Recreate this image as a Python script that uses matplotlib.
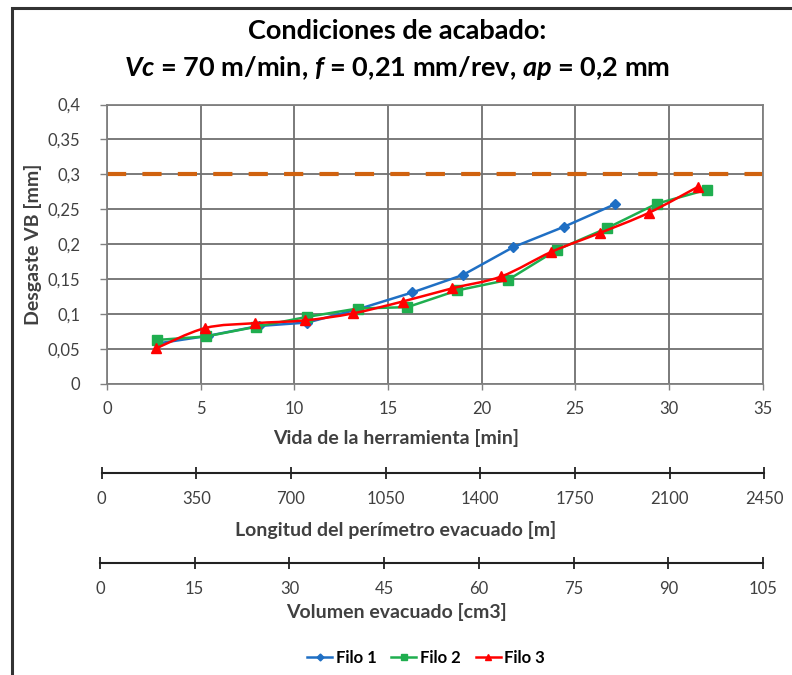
import numpy as np
import matplotlib
matplotlib.use("Agg")
import matplotlib.pyplot as plt
from matplotlib.path import Path
from matplotlib.patches import PathPatch, Rectangle
from matplotlib.lines import Line2D

plt.rcParams['font.family'] = ['Lato', 'DejaVu Sans']
plt.rcParams['mathtext.fontset'] = 'custom'
plt.rcParams['mathtext.it'] = 'Lato:italic:bold'
plt.rcParams['mathtext.rm'] = 'Lato:bold'

# data
time_1 = [2.7, 5.4, 8.1, 10.7, 13.4, 16.3, 19.0, 21.7, 24.4, 27.1]
wear_1 = [0.058, 0.069, 0.083, 0.088, 0.107, 0.131, 0.156, 0.196, 0.225, 0.257]
time_2 = [2.66, 5.28, 7.98, 10.67, 13.38, 16.04, 18.71, 21.41, 24.02, 26.69, 29.35, 32.02]
wear_2 = [0.063, 0.068, 0.082, 0.096, 0.108, 0.110, 0.134, 0.149, 0.192, 0.223, 0.258, 0.278]
time_3 = [2.62, 5.23, 7.89, 10.55, 13.12, 15.78, 18.44, 21.06, 23.72, 26.3, 28.93, 31.54]
wear_3 = [0.051, 0.080, 0.087, 0.091, 0.101, 0.118, 0.137, 0.154, 0.189, 0.216, 0.245, 0.282]
vb_limit = 0.3

time_ticks = list(range(0, 36, 5))
wear_ticks = [0, 0.05, 0.1, 0.15, 0.2, 0.25, 0.3, 0.35, 0.4]
wear_labels = ['0', '0,05', '0,1', '0,15', '0,2', '0,25', '0,3', '0,35', '0,4']
length_ticks = list(range(0, 2451, 350))
volume_ticks = list(range(0, 106, 15))

blue, green, red = '#1f6fc4', '#1fae4f', '#ff0000'
orange = '#d0620f'
txt = '#404040'

W, H = 792, 675
def fx(p):
    return p / W
def fy(p):
    return 1 - p / H

fig = plt.figure(figsize=(W / 100, H / 100), dpi=100)

# outer frame
fig.patches.append(Rectangle((fx(12), fy(1000)), 2, fy(8) - fy(1000),
                             transform=fig.transFigure, fill=False,
                             edgecolor='#333333', linewidth=2.2))

ax = fig.add_axes([fx(107), fy(384), fx(762.5) - fx(107), fy(104.5) - fy(384)])


def smooth_path(x, y):
    pts = np.column_stack([x, y])
    n = len(pts)
    verts = [pts[0]]
    codes = [Path.MOVETO]
    for i in range(n - 1):
        p0 = pts[max(i - 1, 0)]
        p1 = pts[i]
        p2 = pts[i + 1]
        p3 = pts[min(i + 2, n - 1)]
        verts += [p1 + (p2 - p0) / 6, p2 - (p3 - p1) / 6, p2]
        codes += [Path.CURVE4] * 3
    return Path(verts, codes)


ax.plot(time_1, wear_1, color=blue, lw=1.8, marker='D', ms=5, zorder=3)
ax.plot(time_2, wear_2, color=green, lw=1.8, marker='s', ms=6.5, zorder=4)
ax.add_patch(PathPatch(smooth_path(time_3, wear_3), fill=False,
                       edgecolor=red, lw=1.8, zorder=5))
ax.plot(time_3, wear_3, color=red, ls='none', marker='^', ms=7, zorder=5)
ax.axhline(vb_limit, color=orange, lw=3, dashes=(4.6, 3.9), zorder=2)

ax.set_xlim(0, 35)
ax.set_ylim(0, 0.4)
ax.set_xticks(time_ticks)
ax.set_yticks(wear_ticks)
ax.set_yticklabels(wear_labels)
ax.grid(True, color='#707070', lw=1.3)
ax.set_axisbelow(True)
for s in ax.spines.values():
    s.set_color('#808080')
    s.set_linewidth(1.3)
ax.tick_params(axis='y', direction='out', length=5, width=1, color='#808080',
               pad=14, labelsize=12, labelcolor=txt)
ax.tick_params(axis='x', direction='out', length=4, width=1, color='#808080',
               pad=8, labelsize=12, labelcolor=txt)

ax.set_xlabel('Vida de la herramienta [min]', fontsize=14, fontweight='bold',
              color=txt, va='center')
ax.xaxis.set_label_coords(0.5, fy(438), transform=fig.transFigure)
ax.set_ylabel('Desgaste VB [mm]', fontsize=14, fontweight='bold',
              color=txt, va='center')
ax.yaxis.set_label_coords(fx(33), fy(244), transform=fig.transFigure)

# extra scales below the chart
def scale_axis(y_line, x0, x1, ticks, label, y_label):
    a = fig.add_axes([fx(x0), fy(y_line), fx(x1) - fx(x0), 0.0001])
    a.patch.set_visible(False)
    for k in ('top', 'left', 'right'):
        a.spines[k].set_visible(False)
    a.spines['bottom'].set_linewidth(1.5)
    a.spines['bottom'].set_color('#222222')
    a.set_xlim(ticks[0], ticks[-1])
    a.set_xticks(ticks)
    a.set_yticks([])
    a.tick_params(axis='x', direction='inout', length=9, width=1.3,
                  color='#222222', pad=9, labelsize=12, labelcolor=txt)
    a.set_xlabel(label, fontsize=14, fontweight='bold', color=txt, va='center')
    a.xaxis.set_label_coords(0.5, fy(y_label), transform=fig.transFigure)
    return a

scale_axis(472.7, 101.7, 764.3, length_ticks,
           'Longitud del perímetro evacuado [m]', 530)
scale_axis(562.7, 100, 763, volume_ticks, 'Volumen evacuado [cm3]', 612)

# title
fig.text(fx(397), fy(31), 'Condiciones de acabado:', ha='center', va='center',
         fontsize=19.5, fontweight='bold', color='black')
fig.text(fx(397), fy(68),
         r'$Vc$ = 70 m/min, $f$ = 0,21 mm/rev, $ap$ = 0,2 mm',
         ha='center', va='center', fontsize=19.5, fontweight='bold', color='black')

handles = [
    Line2D([], [], color=blue, lw=1.8, marker='D', ms=3.5),
    Line2D([], [], color=green, lw=1.8, marker='s', ms=4.5),
    Line2D([], [], color=red, lw=1.8, marker='^', ms=4.5),
]
fig.legend(handles, ['Filo 1', 'Filo 2', 'Filo 3'], loc='center',
           bbox_to_anchor=(fx(426), fy(658)), ncol=3, frameon=False,
           handlelength=1.5, handletextpad=0.2, columnspacing=0.9,
           prop={'weight': 'bold', 'size': 12})

fig.savefig('out.png', dpi=100)
